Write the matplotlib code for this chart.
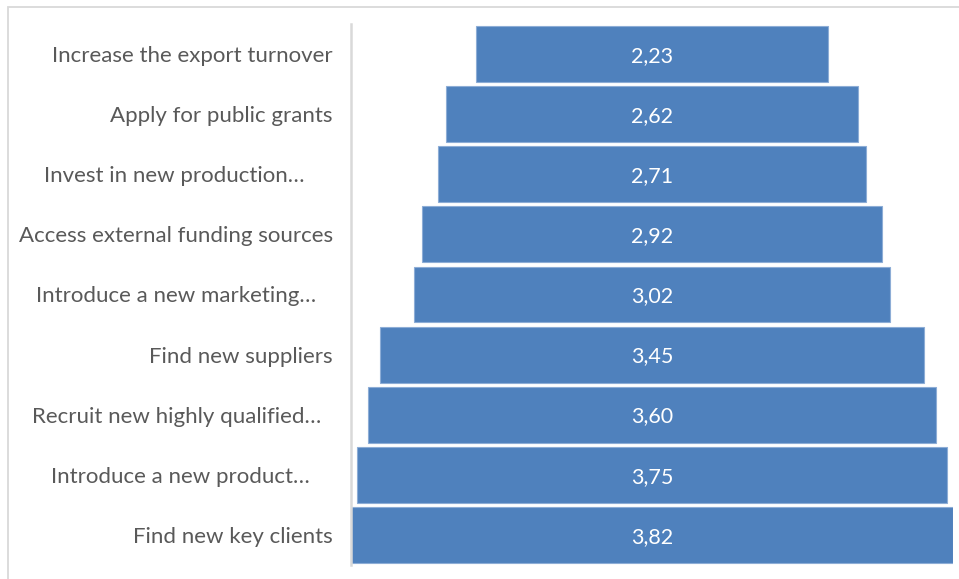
import matplotlib.pyplot as plt
from matplotlib.patches import Rectangle

categories = [
    "Increase the export turnover",
    "Apply for public grants",
    "Invest in new production…     ",
    "Access external funding sources",
    "Introduce a new marketing…   ",
    "Find new suppliers",
    "Recruit new highly qualified…  ",
    "Introduce a new product…    ",
    "Find new key clients",
]
values = [2.23, 2.62, 2.71, 2.92, 3.02, 3.45, 3.60, 3.75, 3.82]

W, H = 959, 579
fig = plt.figure(figsize=(W / 100, H / 100), dpi=100)
fig.patch.set_facecolor("white")

# chart frame
fig.add_artist(Rectangle((8 / W, -0.1), 1.2, (H - 7) / H + 0.1,
                         transform=fig.transFigure, fill=False,
                         edgecolor="#D9D9D9", linewidth=1.3))

ax_left, ax_right = 351, 953
ax_top, ax_bottom = 24, 565
ax = fig.add_axes([ax_left / W, 1 - ax_bottom / H,
                   (ax_right - ax_left) / W, (ax_bottom - ax_top) / H])

vmax = max(values)
ypos = list(range(len(values)))
lefts = [-v / 2 for v in values]
ax.barh(ypos, values, left=lefts, height=0.93, color="#4F81BD",
        edgecolor="#8DADD6", linewidth=0.8)

for y, v in zip(ypos, values):
    ax.text(0, y + 0.03, f"{v:.2f}".replace(".", ","), ha="center", va="center",
            color="white", fontsize=15.5, family="Lato")

ax.set_xlim(-vmax / 2, vmax / 2)
ax.set_ylim(len(values) - 0.5, -0.5)
ax.set_yticks(ypos)
ax.set_yticklabels(categories, fontsize=16, family="Lato", color="#595959")
ax.tick_params(axis="y", length=0, pad=13)
ax.set_xticks([])
for side in ["top", "right", "bottom"]:
    ax.spines[side].set_visible(False)
ax.spines["left"].set_color("#D9D9D9")
ax.spines["left"].set_linewidth(1.8)

fig.savefig("out.png", dpi=100)
